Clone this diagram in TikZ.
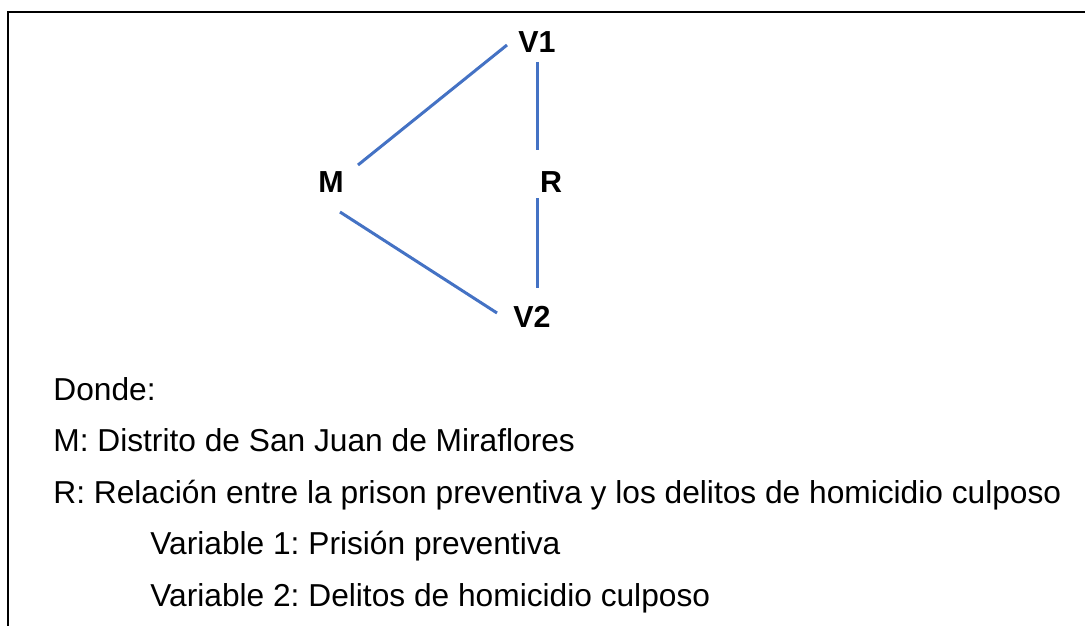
\documentclass[tikz,border=0pt]{standalone}
\usepackage{fontspec}
\setmainfont{Liberation Sans}
\usetikzlibrary{calc}
\definecolor{linkblue}{RGB}{68,114,196}
\frenchspacing

\begin{document}
\begin{tikzpicture}[x=.5pt,y=-.5pt,
    var/.style={font=\fontsize{15.2}{17}\selectfont\bfseries,inner sep=0pt},
    txt/.style={font=\fontsize{15.85}{19}\selectfont,anchor=base west,inner sep=0pt},
    link/.style={draw=linkblue,line width=1.5pt}]
  \useasboundingbox (0,0) rectangle (1085,626);
  \draw[line width=1pt] (1085,12) -- (8,12) -- (8,626);
  % diagram
  \foreach \n/\x/\y in {V1/537/42,M/331/182,R/551/182,V2/532/317}{%
    \node[var] (\n) at (\x,\y) {\n};
  }
  \draw[link] ($(M)+(27,-17)$) -- ($(V1)+(-30,3)$);
  \draw[link] ($(M)+(9,30)$) -- ($(V2)+(-35,-4)$);
  \draw[link] ($(V1)+(0,20)$) -- ($(R)+(-14,-32)$);
  \draw[link] ($(R)+(-14,16)$) -- ($(V2)+(5,-29)$);
  % legend
  \node[txt] (donde) at (53,400) {Donde:};
  \node[txt] (lm) at (53,451) {M: Distrito de San Juan de Miraflores};
  \node[txt] (lr) at (53,503) {R: Relación entre la prison preventiva y los delitos de homicidio culposo};
  \node[txt] (lv1) at (150,554) {Variable 1: Prisión preventiva};
  \node[txt] (lv2) at (150,606) {Variable 2: Delitos de homicidio culposo};
\end{tikzpicture}
\end{document}
